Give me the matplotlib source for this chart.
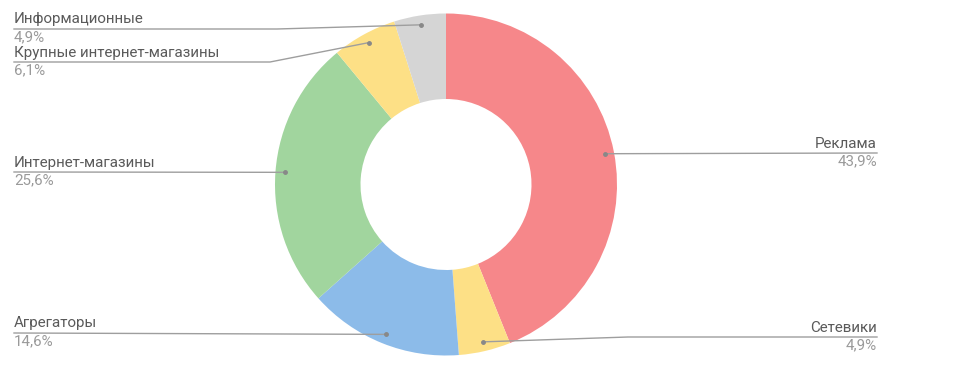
import numpy as np
import matplotlib.pyplot as plt

plt.rcParams['font.family'] = ['Roboto', 'DejaVu Sans']

# slices, clockwise from 12 o'clock
labels = ['Реклама', 'Сетевики', 'Агрегаторы', 'Интернет-магазины',
          'Крупные интернет-магазины', 'Информационные']
values = [43.9, 4.9, 14.6, 25.6, 6.1, 4.9]
colors = ['#F6878A', '#FDE086', '#8CBBE9', '#A1D59E', '#FDE086', '#D5D5D5']

W, H = 960, 378
cx, cy, R = 446, 184.5, 171
hole = 85.5

# label layout in pixels (top-left origin): side, line y, elbow x
layout = {
    'Реклама':                   ('right', 153, None),
    'Сетевики':                  ('right', 337, 628),
    'Агрегаторы':                ('left', 333, None),
    'Интернет-магазины':         ('left', 172, None),
    'Крупные интернет-магазины': ('left', 62, 270),
    'Информационные':            ('left', 29, 277),
}
x_left, x_right = 14, 877


def py(y):
    return H - y


fig = plt.figure(figsize=(W / 100, H / 100), dpi=100)
ax = fig.add_axes([0, 0, 1, 1])

ax.pie(values, colors=colors, startangle=90, counterclock=False,
       center=(cx, py(cy)), radius=R,
       wedgeprops=dict(width=R - hole, edgecolor='none'))

ax.set_xlim(0, W)
ax.set_ylim(0, H)
ax.set_aspect('equal')
ax.axis('off')

line_c = '#9E9E9E'
start = 90.0
for lab, v in zip(labels, values):
    sweep = v / sum(values) * 360
    mid = np.deg2rad(start - sweep / 2)
    start -= sweep
    dx = cx + 0.945 * R * np.cos(mid)
    dy = py(cy) + 0.945 * R * np.sin(mid)

    side, ly, elbow = layout[lab]
    ly = py(ly)
    xe = x_left if side == 'left' else x_right
    if elbow is None:
        xs = [xe, dx]
        ys = [ly, dy]
    else:
        xs = [xe, elbow, dx]
        ys = [ly, ly, dy]
    ax.plot(xs, ys, color=line_c, lw=1)
    ax.plot(dx, dy, 'o', color='#888888', ms=2.5)

    ha = 'left' if side == 'left' else 'right'
    ax.text(xe, ly + 2.5, lab, ha=ha, va='bottom', fontsize=10.9, color='#5a5a5a')
    ax.text(xe, ly - 1.5, f'{v:.1f}%'.replace('.', ','), ha=ha, va='top',
            fontsize=10.9, color='#9a9a9a')

fig.savefig('out.png', dpi=100)
